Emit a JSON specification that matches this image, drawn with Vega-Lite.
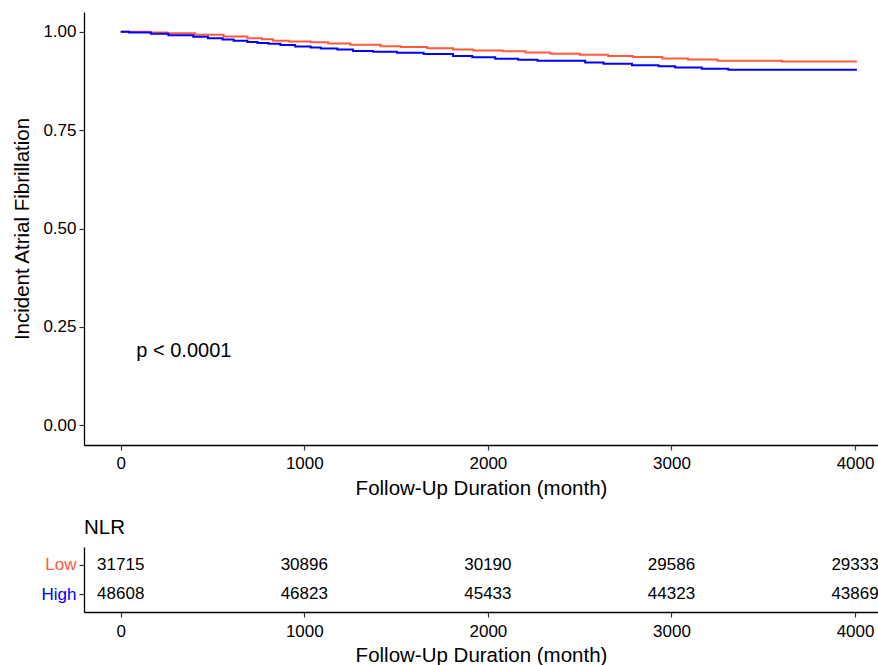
{
  "$schema": "https://vega.github.io/schema/vega-lite/v6.json",
  "autosize": {"type": "pad"},
  "padding": {"left": 12, "top": 12, "right": 0, "bottom": 0},
  "background": "white",
  "bounds": "flush",
  "spacing": 102,
  "config": {
    "view": {"stroke": null},
    "font": "Liberation Sans",
    "axis": {
      "grid": false,
      "domainColor": "black",
      "domainWidth": 1.3,
      "tickColor": "#333333",
      "tickWidth": 1.2,
      "tickSize": 5,
      "labelFontSize": 17,
      "labelColor": "black",
      "labelPadding": 3,
      "titleFontSize": 20.5,
      "titleFontWeight": "normal",
      "titleColor": "black"
    }
  },
  "datasets": {
    "km": [
      {"group": "Low", "t": 0, "s": 1.0},
      {"group": "Low", "t": 160, "s": 0.998},
      {"group": "Low", "t": 255, "s": 0.996},
      {"group": "Low", "t": 405, "s": 0.992},
      {"group": "Low", "t": 560, "s": 0.988},
      {"group": "Low", "t": 690, "s": 0.983},
      {"group": "Low", "t": 770, "s": 0.9805},
      {"group": "Low", "t": 830, "s": 0.977},
      {"group": "Low", "t": 915, "s": 0.975},
      {"group": "Low", "t": 1035, "s": 0.973},
      {"group": "Low", "t": 1130, "s": 0.970},
      {"group": "Low", "t": 1250, "s": 0.967},
      {"group": "Low", "t": 1415, "s": 0.963},
      {"group": "Low", "t": 1525, "s": 0.961},
      {"group": "Low", "t": 1670, "s": 0.958},
      {"group": "Low", "t": 1810, "s": 0.955},
      {"group": "Low", "t": 1920, "s": 0.9525},
      {"group": "Low", "t": 2080, "s": 0.950},
      {"group": "Low", "t": 2205, "s": 0.947},
      {"group": "Low", "t": 2340, "s": 0.944},
      {"group": "Low", "t": 2500, "s": 0.9415},
      {"group": "Low", "t": 2655, "s": 0.938},
      {"group": "Low", "t": 2790, "s": 0.9355},
      {"group": "Low", "t": 2950, "s": 0.932},
      {"group": "Low", "t": 3090, "s": 0.9295},
      {"group": "Low", "t": 3250, "s": 0.926},
      {"group": "Low", "t": 3600, "s": 0.9245},
      {"group": "Low", "t": 4010, "s": 0.9245},
      {"group": "High", "t": 0, "s": 1.0},
      {"group": "High", "t": 45, "s": 0.998},
      {"group": "High", "t": 165, "s": 0.995},
      {"group": "High", "t": 260, "s": 0.991},
      {"group": "High", "t": 395, "s": 0.987},
      {"group": "High", "t": 475, "s": 0.983},
      {"group": "High", "t": 555, "s": 0.980},
      {"group": "High", "t": 615, "s": 0.977},
      {"group": "High", "t": 690, "s": 0.974},
      {"group": "High", "t": 745, "s": 0.9715},
      {"group": "High", "t": 805, "s": 0.9695},
      {"group": "High", "t": 870, "s": 0.966},
      {"group": "High", "t": 950, "s": 0.9625},
      {"group": "High", "t": 1035, "s": 0.960},
      {"group": "High", "t": 1090, "s": 0.9575},
      {"group": "High", "t": 1180, "s": 0.9545},
      {"group": "High", "t": 1265, "s": 0.951},
      {"group": "High", "t": 1375, "s": 0.949},
      {"group": "High", "t": 1505, "s": 0.9465},
      {"group": "High", "t": 1650, "s": 0.943},
      {"group": "High", "t": 1810, "s": 0.938},
      {"group": "High", "t": 1915, "s": 0.935},
      {"group": "High", "t": 2040, "s": 0.931},
      {"group": "High", "t": 2165, "s": 0.929},
      {"group": "High", "t": 2270, "s": 0.926},
      {"group": "High", "t": 2530, "s": 0.922},
      {"group": "High", "t": 2630, "s": 0.9187},
      {"group": "High", "t": 2785, "s": 0.915},
      {"group": "High", "t": 2930, "s": 0.912},
      {"group": "High", "t": 3020, "s": 0.909},
      {"group": "High", "t": 3165, "s": 0.906},
      {"group": "High", "t": 3310, "s": 0.9035},
      {"group": "High", "t": 4010, "s": 0.9035}
    ],
    "risk": [
      {"group": "Low", "t": 0, "n": "31715"},
      {"group": "Low", "t": 1000, "n": "30896"},
      {"group": "Low", "t": 2000, "n": "30190"},
      {"group": "Low", "t": 3000, "n": "29586"},
      {"group": "Low", "t": 4000, "n": "29333"},
      {"group": "High", "t": 0, "n": "48608"},
      {"group": "High", "t": 1000, "n": "46823"},
      {"group": "High", "t": 2000, "n": "45433"},
      {"group": "High", "t": 3000, "n": "44323"},
      {"group": "High", "t": 4000, "n": "43869"}
    ],
    "pval": [{"t": 85, "s": 0.19, "label": "p < 0.0001"}]
  },
  "vconcat": [
    {
      "width": 794,
      "height": 433,
      "layer": [
        {
          "data": {"name": "km"},
          "mark": {"type": "line", "interpolate": "step-after", "strokeWidth": 2},
          "encoding": {
            "x": {
              "field": "t", "type": "quantitative",
              "scale": {"domain": [-200, 4125], "nice": false, "zero": false},
              "axis": {"values": [0, 1000, 2000, 3000, 4000], "format": "d", "title": "Follow-Up Duration (month)", "labelPadding": 5, "titlePadding": 7}
            },
            "y": {
              "field": "s", "type": "quantitative",
              "scale": {"domain": [-0.05, 1.05], "nice": false, "zero": false},
              "axis": {"values": [0, 0.25, 0.5, 0.75, 1], "format": ".2f", "title": "Incident Atrial Fibrillation", "titlePadding": 10}
            },
            "color": {
              "field": "group", "type": "nominal",
              "scale": {"domain": ["Low", "High"], "range": ["#FF5A3C", "#0000FF"]},
              "legend": null
            }
          }
        },
        {
          "data": {"name": "pval"},
          "mark": {"type": "text", "align": "left", "baseline": "middle", "fontSize": 20, "color": "black"},
          "encoding": {
            "x": {"field": "t", "type": "quantitative"},
            "y": {"field": "s", "type": "quantitative"},
            "text": {"field": "label"}
          }
        }
      ]
    },
    {
      "width": 794,
      "height": 65,
      "data": {"name": "risk"},
      "title": {"text": "NLR", "anchor": "start", "frame": "group", "fontSize": 20.5, "fontWeight": "normal", "color": "black", "offset": 9},
      "mark": {"type": "text", "fontSize": 17, "baseline": "middle", "color": "black"},
      "encoding": {
        "x": {
          "field": "t", "type": "quantitative",
          "scale": {"domain": [-200, 4125], "nice": false, "zero": false},
          "axis": {"values": [0, 1000, 2000, 3000, 4000], "format": "d", "title": "Follow-Up Duration (month)", "labelPadding": 6, "titlePadding": 6}
        },
        "y": {
          "field": "group", "type": "nominal",
          "scale": {"type": "point", "domain": ["Low", "High"], "padding": 0.6},
          "axis": {
            "title": null,
            "labelColor": {"condition": {"test": "datum.value === 'Low'", "value": "#FF5A3C"}, "value": "#0000FF"}
          }
        },
        "text": {"field": "n"}
      }
    }
  ]
}
